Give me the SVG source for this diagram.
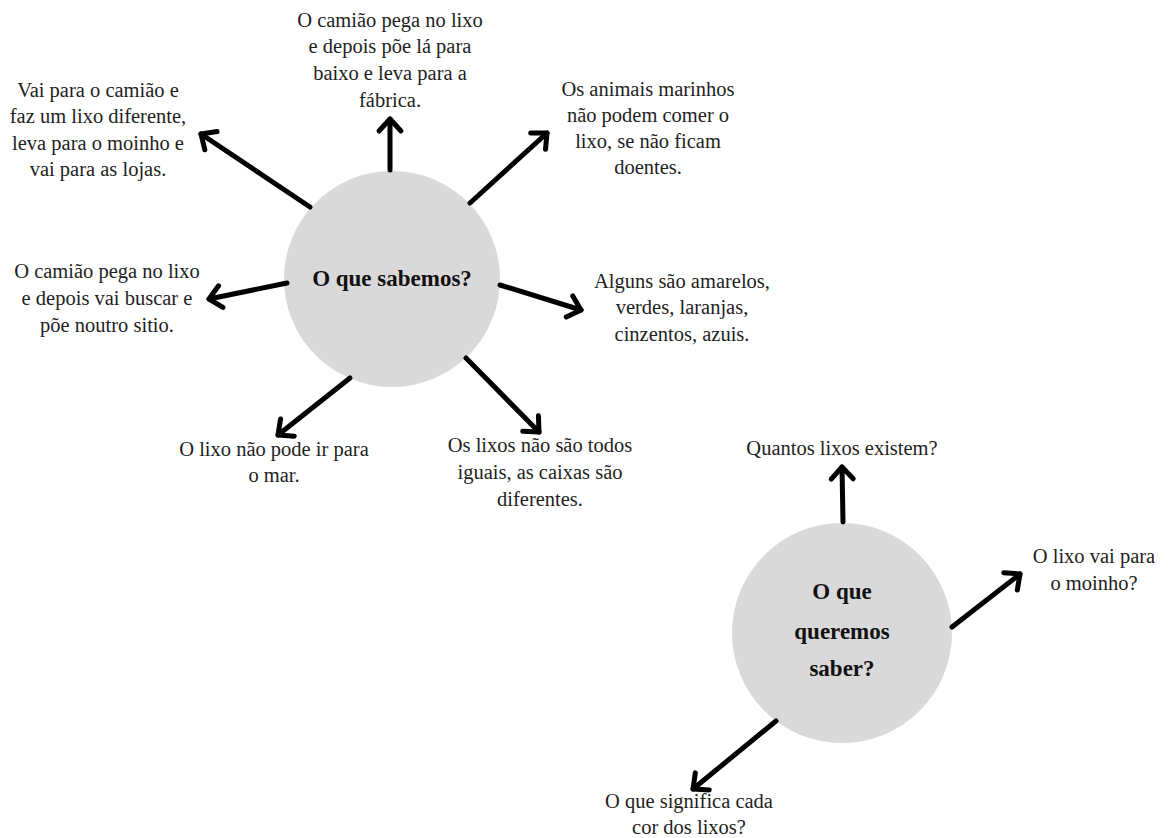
<svg xmlns="http://www.w3.org/2000/svg" width="1169" height="838" viewBox="0 0 1169 838">
<style>
.t{font-family:'Liberation Serif','DejaVu Serif',serif;font-size:20.5px;fill:#1e1e1e;text-anchor:middle}
.b{font-family:'Liberation Serif','DejaVu Serif',serif;font-size:23px;font-weight:bold;fill:#111;text-anchor:middle}
.c{fill:#d9d9d9}
.a{stroke:#000;stroke-width:5;fill:none;stroke-linecap:round;marker-end:url(#ah)}
</style>
<defs>
<marker id="ah" viewBox="-20 -16 24 32" markerWidth="24" markerHeight="32" refX="0" refY="0" orient="auto" markerUnits="userSpaceOnUse">
<path d="M-12,-11 L0,0 L-12,11" fill="none" stroke="#000" stroke-width="5" stroke-linecap="round" stroke-linejoin="round"/>
</marker>
</defs>
<rect width="1169" height="838" fill="#fff"/>
<g id="n-sabemos"><circle class="c" cx="392" cy="279" r="108"/><text class="b" x="392" y="286">O que sabemos?</text></g>
<g id="n-queremos"><circle class="c" cx="842" cy="633" r="110" fill="#d4d4d4"/><text class="b" x="842" y="599">O que</text><text class="b" x="842" y="639">queremos</text><text class="b" x="842" y="676">saber?</text></g>
<g id="n-fabrica"><text class="t" x="390" y="27">O camião pega no lixo</text><text class="t" x="390" y="53">e depois põe lá para</text><text class="t" x="390" y="80">baixo e leva para a</text><text class="t" x="390" y="107">fábrica.</text></g>
<g id="n-lojas"><text class="t" x="98" y="97">Vai para o camião e</text><text class="t" x="98" y="123">faz um lixo diferente,</text><text class="t" x="98" y="150">leva para o moinho e</text><text class="t" x="98" y="176">vai para as lojas.</text></g>
<g id="n-animais"><text class="t" x="648" y="96">Os animais marinhos</text><text class="t" x="648" y="122">não podem comer o</text><text class="t" x="648" y="148">lixo, se não ficam</text><text class="t" x="648" y="174">doentes.</text></g>
<g id="n-sitio"><text class="t" x="107" y="278">O camião pega no lixo</text><text class="t" x="107" y="305">e depois vai buscar e</text><text class="t" x="107" y="332">põe noutro sitio.</text></g>
<g id="n-cores"><text class="t" x="682" y="288">Alguns são amarelos,</text><text class="t" x="682" y="314">verdes, laranjas,</text><text class="t" x="682" y="341">cinzentos, azuis.</text></g>
<g id="n-mar"><text class="t" x="274" y="456">O lixo não pode ir para</text><text class="t" x="274" y="482">o mar.</text></g>
<g id="n-iguais"><text class="t" x="540" y="452">Os lixos não são todos</text><text class="t" x="540" y="479">iguais, as caixas são</text><text class="t" x="540" y="506">diferentes.</text></g>
<g id="n-quantos"><text class="t" x="842" y="455">Quantos lixos existem?</text></g>
<g id="n-moinho"><text class="t" x="1094" y="563">O lixo vai para</text><text class="t" x="1094" y="590">o moinho?</text></g>
<g id="n-significa"><text class="t" x="689" y="808">O que significa cada</text><text class="t" x="689" y="834">cor dos lixos?</text></g>
<g id="connectors">
<line class="a" x1="390" y1="170" x2="390" y2="119"/>
<line class="a" x1="310" y1="207" x2="201" y2="134"/>
<line class="a" x1="470" y1="203" x2="547" y2="133"/>
<line class="a" x1="287" y1="283" x2="209" y2="299"/>
<line class="a" x1="500" y1="285" x2="581" y2="310"/>
<line class="a" x1="350" y1="378" x2="278" y2="435"/>
<line class="a" x1="466" y1="358" x2="539" y2="432"/>
<line class="a" x1="843" y1="522" x2="842" y2="467"/>
<line class="a" x1="952" y1="627" x2="1020" y2="574"/>
<line class="a" x1="776" y1="721" x2="693" y2="789"/>
</g>
</svg>
